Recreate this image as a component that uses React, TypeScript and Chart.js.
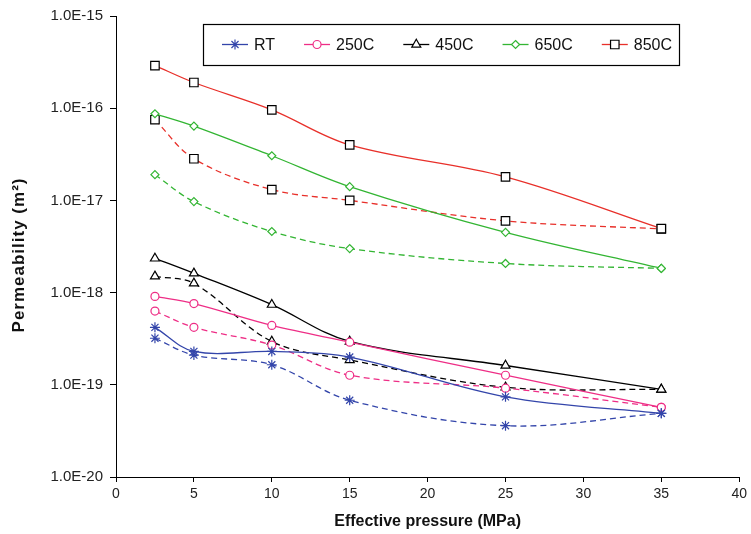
import React, { useEffect, useRef } from "react";
import { Chart, registerables } from "chart.js";

Chart.register(...registerables);

// ---- data ----
const pressure = [2.5, 5, 10, 15, 25, 35];

const rtSolid = [4.2e-19, 2.3e-19, 2.3e-19, 2.0e-19, 7.4e-20, 4.9e-20];
const rtDashed = [3.2e-19, 2.1e-19, 1.65e-19, 6.8e-20, 3.6e-20, 4.9e-20];
const c250Solid = [9.1e-19, 7.6e-19, 4.4e-19, 2.9e-19, 1.27e-19, 5.7e-20];
const c250Dashed = [6.3e-19, 4.2e-19, 2.7e-19, 1.27e-19, 9.2e-20, 5.7e-20];
const c450Solid = [2.35e-18, 1.62e-18, 7.4e-19, 2.95e-19, 1.62e-19, 8.9e-20];
const c450Dashed = [1.5e-18, 1.26e-18, 2.95e-19, 1.86e-19, 9.4e-20, 8.9e-20];
const c650Solid = [8.7e-17, 6.4e-17, 3.05e-17, 1.41e-17, 4.5e-18, 1.83e-18];
const c650Dashed = [1.9e-17, 9.7e-18, 4.6e-18, 3.0e-18, 2.07e-18, 1.83e-18];
const c850Solid = [2.9e-16, 1.9e-16, 9.6e-17, 4.0e-17, 1.8e-17, 4.95e-18];
const c850Dashed = [7.5e-17, 2.83e-17, 1.31e-17, 1.0e-17, 6.0e-18, 4.9e-18];

const seriesNames = ["RT", "250C", "450C", "650C", "850C"];
const yTickValues = [1e-20, 1e-19, 1e-18, 1e-17, 1e-16, 1e-15];
const yTickLabels = ["1.0E-20", "1.0E-19", "1.0E-18", "1.0E-17", "1.0E-16", "1.0E-15"];
const xTitle = "Effective pressure (MPa)";
const yTitle = "Permeability (m²)";

// ---- styles ----
const lineColors = ["#3345AA", "#EE2E86", "#000000", "#33B533", "#E8302A"];
const markerColors = ["#3345AA", "#EE2E86", "#000000", "#33B533", "#000000"];
const markerStyles = ["star", "circle", "triangle", "rectRot", "rect"];
const markerRadius = [5, 4, 5.2, 4, 6];
const FONT = "'Liberation Sans', Arial, sans-serif";

function toPoints(ys: number[]) {
  return pressure.map((x, i) => ({ x, y: ys[i] }));
}

function drawMarker(ctx: CanvasRenderingContext2D, style: string, x: number, y: number, r: number, color: string) {
  ctx.save();
  ctx.strokeStyle = color;
  ctx.fillStyle = "#fff";
  ctx.lineWidth = 1.2;
  ctx.setLineDash([]);
  ctx.beginPath();
  if (style === "circle") {
    ctx.arc(x, y, r, 0, Math.PI * 2);
    ctx.fill();
    ctx.stroke();
  } else if (style === "rect") {
    const s = Math.SQRT1_2 * r;
    ctx.rect(x - s, y - s, 2 * s, 2 * s);
    ctx.fill();
    ctx.stroke();
  } else if (style === "rectRot") {
    ctx.moveTo(x, y - r);
    ctx.lineTo(x + r, y);
    ctx.lineTo(x, y + r);
    ctx.lineTo(x - r, y);
    ctx.closePath();
    ctx.fill();
    ctx.stroke();
  } else if (style === "triangle") {
    for (let k = 0; k < 3; k++) {
      const a = (k * 2 * Math.PI) / 3;
      const px = x + Math.sin(a) * r;
      const py = y - Math.cos(a) * r;
      if (k === 0) ctx.moveTo(px, py);
      else ctx.lineTo(px, py);
    }
    ctx.closePath();
    ctx.fill();
    ctx.stroke();
  } else if (style === "star") {
    for (let k = 0; k < 4; k++) {
      const a = (k * Math.PI) / 4;
      ctx.moveTo(x + Math.cos(a) * r, y + Math.sin(a) * r);
      ctx.lineTo(x - Math.cos(a) * r, y - Math.sin(a) * r);
    }
    ctx.stroke();
  }
  ctx.restore();
}

const boxLegendPlugin = {
  id: "boxLegend",
  afterDraw(chart: any) {
    const ctx: CanvasRenderingContext2D = chart.ctx;
    ctx.save();
    const boxL = 203, boxT = 24, boxR = 679, boxB = 65;
    ctx.fillStyle = "#fff";
    ctx.fillRect(boxL, boxT, boxR - boxL, boxB - boxT);
    ctx.strokeStyle = "#000";
    ctx.lineWidth = 1.2;
    ctx.strokeRect(boxL + 0.5, boxT + 0.5, boxR - boxL, boxB - boxT);
    ctx.font = `16px ${FONT}`;
    ctx.textBaseline = "middle";
    ctx.textAlign = "left";
    const cy = 44.5;
    let x0 = 222;
    seriesNames.forEach((name, i) => {
      ctx.strokeStyle = lineColors[i];
      ctx.lineWidth = 1.3;
      ctx.beginPath();
      ctx.moveTo(x0, cy);
      ctx.lineTo(x0 + 26, cy);
      ctx.stroke();
      drawMarker(ctx, markerStyles[i], x0 + 13, cy, markerRadius[i], markerColors[i]);
      ctx.fillStyle = "#111";
      ctx.fillText(name, x0 + 32, cy + 1);
      const w = ctx.measureText(name).width;
      x0 = x0 + 32 + w + 29;
    });
    ctx.restore();
  },
};

const yTitlePlugin = {
  id: "yTitleCustom",
  afterDraw(chart: any) {
    const ctx: any = chart.ctx;
    ctx.save();
    ctx.translate(19, 255);
    ctx.rotate(-Math.PI / 2);
    ctx.font = `bold 17px ${FONT}`;
    ctx.letterSpacing = "1px";
    ctx.fillStyle = "#111";
    ctx.textAlign = "center";
    ctx.textBaseline = "middle";
    ctx.fillText(yTitle, 0, 0);
    ctx.restore();
  },
};

export default function App() {
  const ref = useRef<HTMLCanvasElement | null>(null);

  useEffect(() => {
    if (!ref.current) return;
    const solids = [rtSolid, c250Solid, c450Solid, c650Solid, c850Solid];
    const dashes = [rtDashed, c250Dashed, c450Dashed, c650Dashed, c850Dashed];
    const datasets: any[] = [];
    seriesNames.forEach((name, i) => {
      const common = {
        borderColor: lineColors[i],
        borderWidth: 1.3,
        pointStyle: markerStyles[i],
        pointRadius: markerRadius[i],
        pointBorderColor: markerColors[i],
        pointBackgroundColor: "#fff",
        pointBorderWidth: 1.2,
        tension: 0.35,
        fill: false,
        showLine: true,
      };
      datasets.push({ ...common, label: name, data: toPoints(solids[i]) });
      datasets.push({ ...common, label: name + " (dashed)", data: toPoints(dashes[i]), borderDash: [6, 4] });
    });

    const chart = new Chart(ref.current, {
      type: "line",
      data: { datasets },
      options: {
        animation: false,
        responsive: false,
        layout: { padding: { top: 15, right: 9, bottom: 0, left: 0 } },
        plugins: { legend: { display: false }, tooltip: { enabled: false } },
        scales: {
          x: {
            type: "linear",
            min: 0,
            max: 40,
            ticks: { stepSize: 5, color: "#222", font: { family: FONT, size: 14 }, padding: 4, maxRotation: 0 },
            grid: { display: true, drawOnChartArea: false, drawTicks: true, tickLength: 5, color: "#000" },
            border: { display: true, color: "#000", width: 1 },
            title: { display: true, text: xTitle, color: "#111", font: { family: FONT, size: 16, weight: "bold" }, padding: { top: 0, bottom: 3 } },
            afterFit: (s: any) => { s.height = 57; },
          },
          y: {
            type: "logarithmic",
            min: 1e-20,
            max: 1e-15,
            afterBuildTicks: (s: any) => { s.ticks = yTickValues.map((v) => ({ value: v })); },
            ticks: {
              color: "#222",
              font: { family: FONT, size: 15 },
              padding: 7,
              autoSkip: false,
              callback: (v: any) => {
                const idx = yTickValues.findIndex((t) => Math.abs(Math.log10(t) - Math.log10(v)) < 1e-6);
                return idx >= 0 ? yTickLabels[idx] : "";
              },
            },
            grid: { display: true, drawOnChartArea: false, drawTicks: true, tickLength: 6, color: "#000" },
            border: { display: true, color: "#000", width: 1 },
            afterFit: (s: any) => { s.width = 116; },
          },
        },
      } as any,
      plugins: [boxLegendPlugin, yTitlePlugin],
    });
    return () => chart.destroy();
  }, []);

  return (
    <div style={{ position: "absolute", left: 0, top: 0, width: 751, height: 534, background: "#fff" }}>
      <canvas ref={ref} width={751} height={534} style={{ display: "block" }} />
    </div>
  );
}
